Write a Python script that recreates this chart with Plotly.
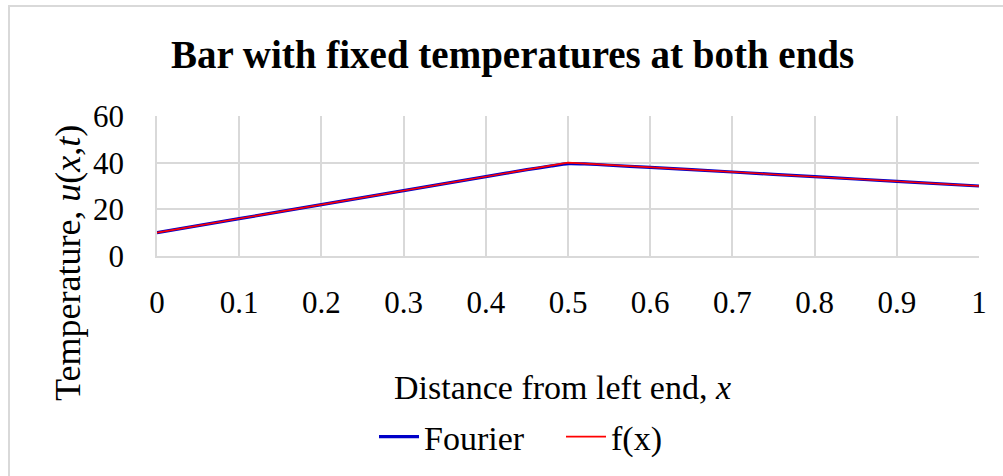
import plotly.graph_objects as go

# Initial temperature profile f(x) along the bar
x_f = [0.0, 0.5, 1.0]
f_vals = [10, 40, 30]

# Fourier series approximation of the same profile
x_fourier = [0.0, 0.1, 0.2, 0.3, 0.4, 0.45, 0.48, 0.5, 0.52, 0.55, 0.6, 0.7, 0.8, 0.9, 1.0]
fourier_vals = [10, 16, 22, 28, 34, 37, 38.6, 39.6, 39.5, 38.9, 38, 36, 34, 32, 30]

x_ticks = [0, 0.1, 0.2, 0.3, 0.4, 0.5, 0.6, 0.7, 0.8, 0.9, 1]
x_tick_text = ["0", "0.1", "0.2", "0.3", "0.4", "0.5", "0.6", "0.7", "0.8", "0.9", "1"]
y_ticks = [0, 20, 40, 60]

FONT = "Liberation Serif"
GRID = "#d9d9d9"

fig = go.Figure()
fig.add_trace(go.Scatter(x=x_fourier, y=fourier_vals, mode="lines", name="Fourier",
                         line=dict(color="#0000c8", width=3.2, shape="spline", smoothing=0.3)))
fig.add_trace(go.Scatter(x=x_f, y=f_vals, mode="lines", name="f(x)",
                         line=dict(color="#ff0000", width=1.6)))

W, H = 1003, 476
L, R, T, B = 157, 979, 116, 256
pw, ph = R - L, B - T

def px(xp):
    return (xp - L) / pw

def py(yp):
    return (B - yp) / ph

fig.update_layout(
    width=W, height=H,
    margin=dict(l=L, r=W - R, t=T, b=H - B),
    paper_bgcolor="white", plot_bgcolor="white",
    font=dict(family=FONT, size=31, color="#000000"),
    showlegend=True,
    legend=dict(orientation="h", xref="container", yref="container",
                x=374 / W, xanchor="left", y=(H - 437) / H, yanchor="middle",
                font=dict(family=FONT, size=34), itemwidth=40,
                entrywidth=132, entrywidthmode="pixels",
                bgcolor="rgba(0,0,0,0)"),
    xaxis=dict(range=[0, 1], tickvals=x_ticks, ticktext=x_tick_text,
               showgrid=True, gridcolor=GRID, gridwidth=1.5,
               showline=True, linecolor=GRID, linewidth=1.5, mirror=False,
               zeroline=False, ticks="", ticklabelstandoff=18,
               tickfont=dict(family=FONT, size=31)),
    yaxis=dict(range=[0, 60], tickvals=y_ticks,
               showgrid=True, gridcolor=GRID, gridwidth=1.5,
               showline=True, linecolor=GRID, linewidth=1.5,
               zeroline=False, ticks="", ticklabelstandoff=25,
               tickfont=dict(family=FONT, size=31)),
    annotations=[
        dict(text="<b>Bar with fixed temperatures at both ends</b>",
             xref="paper", yref="paper", x=px(512), y=py(55),
             xanchor="center", yanchor="middle", showarrow=False,
             font=dict(family=FONT, size=39)),
        dict(text="Distance from left end, <i>x</i>",
             xref="paper", yref="paper", x=px(562), y=py(387),
             xanchor="center", yanchor="middle", showarrow=False,
             font=dict(family=FONT, size=34)),
        dict(text="Temperature, <i>u</i>(<i>x</i>,<i>t</i>)",
             xref="paper", yref="paper", x=px(68), y=py(263),
             xanchor="center", yanchor="middle", showarrow=False, textangle=-90,
             font=dict(family=FONT, size=36)),
    ],
    shapes=[
        dict(type="rect", xref="paper", yref="paper",
             x0=px(9), x1=px(1010), y0=py(6), y1=py(490),
             line=dict(color=GRID, width=2), fillcolor="rgba(0,0,0,0)", layer="below"),
    ],
)

fig.write_html("out.html")
